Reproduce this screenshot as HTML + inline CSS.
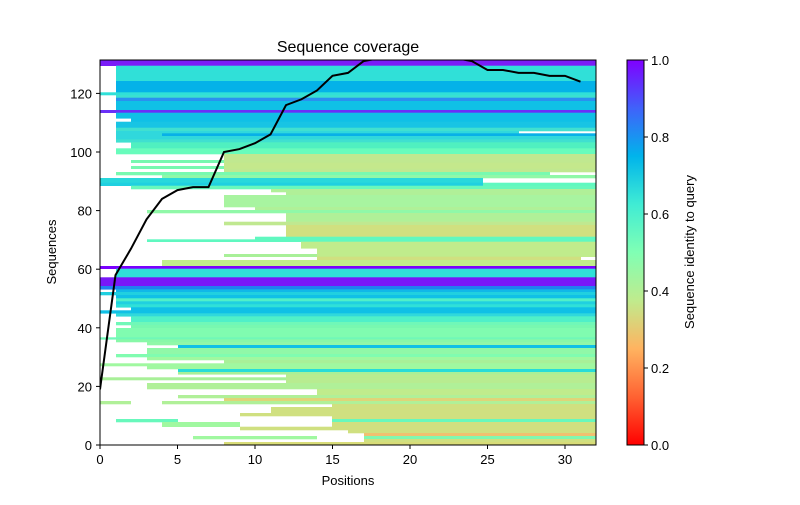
<!DOCTYPE html>
<html><head><meta charset="utf-8"><style>
body{margin:0;background:#fff;}
svg text{font-family:"Liberation Sans","DejaVu Sans",sans-serif;fill:#000;}
</style></head><body>
<svg id="s" width="800" height="500" xmlns="http://www.w3.org/2000/svg">
<defs>
<linearGradient id="cb" x1="0" y1="1" x2="0" y2="0">
<stop offset="0" stop-color="#ff0000"/><stop offset="0.125" stop-color="#ff6232"/>
<stop offset="0.25" stop-color="#ffb360"/><stop offset="0.375" stop-color="#c0eb8d"/>
<stop offset="0.5" stop-color="#80ffb4"/><stop offset="0.625" stop-color="#40ecd4"/>
<stop offset="0.75" stop-color="#00b4eb"/><stop offset="0.875" stop-color="#4062fa"/>
<stop offset="1" stop-color="#8000ff"/>
</linearGradient>
<clipPath id="pc"><rect x="100" y="60" width="496" height="385"/></clipPath>
</defs>
<g id="bands"></g>
<polyline clip-path="url(#pc)" fill="none" stroke="#000" stroke-width="2" points=""/>
<rect x="100" y="60" width="496" height="385" fill="none" stroke="#000" stroke-width="1"/>
<text x="348" y="52" font-size="16" text-anchor="middle">Sequence coverage</text>
<text x="348" y="485" font-size="13" text-anchor="middle">Positions</text>
<text x="56" y="252" font-size="13" text-anchor="middle" transform="rotate(-90 56 252)">Sequences</text>
<g id="ax" font-size="13"></g>
<rect x="627" y="60" width="17" height="385" fill="url(#cb)" stroke="#000" stroke-width="1"/>
<text x="694" y="252" font-size="13" text-anchor="middle" transform="rotate(-90 694 252)">Sequence identity to query</text>
</svg>
<script>
var B=[
[60,65.7,100,"#7a1cf8"],[65.7,81,116,"#30e0d8"],[81,92.3,116,"#04b2e8"],[92.3,95,100,"#30e0d8"],
[95,97.7,116,"#3ae0d0"],[97.7,101,116,"#2a90f0"],[101,110,116,"#10c0e6"],[110,112.7,100,"#6a30f8"],
[112.7,118.3,116,"#10c0e6"],[118.3,121.7,131,"#10c0e6"],[121.7,127.7,116,"#18c4e4"],[127.7,131,116,"#40e0d0"],
[131,133.3,116,"#30d8dc",519],[133.3,136,116,"#30d8dc",162],[133.3,136,162,"#08b0e8"],[136,139.3,116,"#30d8dc"],
[139.3,142.3,116,"#40e0d0"],[142.3,148.3,131,"#50f0c0"],[148.3,154,116,"#68fcbc"],[154,160,224,"#c0e890"],
[160,162.7,131,"#78f8b0"],[160,162.7,224,"#c0e890"],[162.7,166,224,"#c4e88c"],[166,168.7,131,"#78f8b0"],[166,168.7,224,"#c4e88c"],
[168.7,172,224,"#c0e890"],[172,175,116,"#78fab0",550],[175,178,162,"#90f8a8"],[178,182.7,100,"#28d8dc",483],
[182.7,185.7,100,"#20d0e0",483],[182.7,185.7,483,"#60f8c0"],[185.7,189,131,"#68f8bc"],[189,192,271,"#b0f098"],
[192,195,286,"#b0f098"],[195,207,224,"#a8f4a0"],[207,210,255,"#b0f098"],[210,213,147,"#90f8a8"],
[213,221.7,286,"#b0f098"],[221.7,225,224,"#c0e890"],[225,236.7,286,"#d0e080"],[236.7,239.3,255,"#60f8c0"],
[239.3,241.7,147,"#60f8c0"],[241.7,248.3,301,"#c0ec8c"],[248.3,254,317,"#c0ec8c"],[254,256.7,224,"#a8f098"],[254,256.7,317,"#c0ec8c"],
[256.7,260,317,"#d0e080",581],[260,266,162,"#c0ec8c"],[266,268.7,100,"#7a00ff"],[268.7,277.3,116,"#30e0d8"],
[277.3,286,100,"#7818f8"],[286,289.3,100,"#2080f0"],[289.3,292,116,"#10b8e8"],[292,295,100,"#20d0e0"],
[295,298.3,116,"#10c0e6"],[298.3,301.3,116,"#50f0c8"],[301.3,304.3,116,"#20d0e0"],[304.3,307.3,116,"#30e0d8"],
[307.3,310.3,131,"#10c0e6"],[310.3,313.3,100,"#10c0e6"],[313.3,316.3,116,"#30d8dc"],[316.3,322,131,"#50f0c8"],
[322,325,116,"#70f8b8"],[325,328,131,"#78f8b0"],[328,337.3,116,"#80fcb0"],[337.3,339.3,100,"#70f8b8"],
[339.3,342,116,"#88f8a8"],[342,345,147,"#90f8a8"],[345,348,178,"#10c0e6"],[348,354,147,"#90f8a8"],
[354,357,116,"#80fcb0"],[357,360,147,"#a0f8a0"],[360,363.3,224,"#a8f098"],[363.3,366,100,"#a0f8a0"],
[366,369,147,"#a0f8a0"],[369,372,178,"#28dcd8"],[372,374.3,178,"#a8f098"],[374.3,377.3,286,"#b8ec90"],
[377.3,380,100,"#a8f098"],[377.3,380,286,"#b8ec90"],[380,383,286,"#b8ec90"],[383,389,147,"#b0f098"],
[389,395,317,"#c0ec8c"],[395,398,178,"#b0f098"],[398,401,224,"#e0d478"],[401,404,100,"#b0f098",131],[401,404,162,"#b0f098"],
[404,407,332,"#d0e080"],[407,413,271,"#d0e080"],[413,416,240,"#d0e080"],[416,419,332,"#d0e080"],
[419,422,116,"#68f8bc",178],[419,422,332,"#68f8bc"],[422,426.7,162,"#a0f8a0",240],[422,426.7,332,"#d0e080"],
[426.7,430,240,"#d0e080"],[430,433,348,"#d0e080"],[433,436,364,"#f0c070"],[436,439,193,"#a0f8a0",317],[436,439,364,"#80f8b0"],
[439,442,364,"#d0e080"],[442,445,224,"#d8dc78"]];
var g=document.getElementById('bands'),h='';
B.forEach(function(b){var e=b[4]||596;h+='<rect x="'+b[2]+'" y="'+b[0]+'" width="'+(e-b[2])+'" height="'+(b[1]-b[0]+0.3)+'" fill="'+b[3]+'"/>';});
g.innerHTML=h;
var L=[19,58,67,77,84,87,88,88,100,101,103,106,116,118,121,126,127,131,132,132,132,132,132,132,131,128,128,127,127,126,126,124];
document.querySelector('polyline').setAttribute('points',L.map(function(v,i){return (100+15.5*i)+','+(445-2.93*v);}).join(' '));
var a='';
[0,5,10,15,20,25,30].forEach(function(v){var x=100+15.5*v;a+='<line x1="'+x+'" y1="445" x2="'+x+'" y2="449" stroke="#000"/><text x="'+x+'" y="464" text-anchor="middle">'+v+'</text>';});
[0,20,40,60,80,100,120].forEach(function(v){var y=445-2.93*v;a+='<line x1="96" y1="'+y+'" x2="100" y2="'+y+'" stroke="#000"/><text x="92" y="'+(y+5)+'" text-anchor="end">'+v+'</text>';});
[0,0.2,0.4,0.6,0.8,1.0].forEach(function(v){var y=445-385*v;a+='<line x1="644" y1="'+y+'" x2="648" y2="'+y+'" stroke="#000"/><text x="651" y="'+(y+5)+'">'+v.toFixed(1)+'</text>';});
document.getElementById('ax').innerHTML=a;
</script>
</body></html>
